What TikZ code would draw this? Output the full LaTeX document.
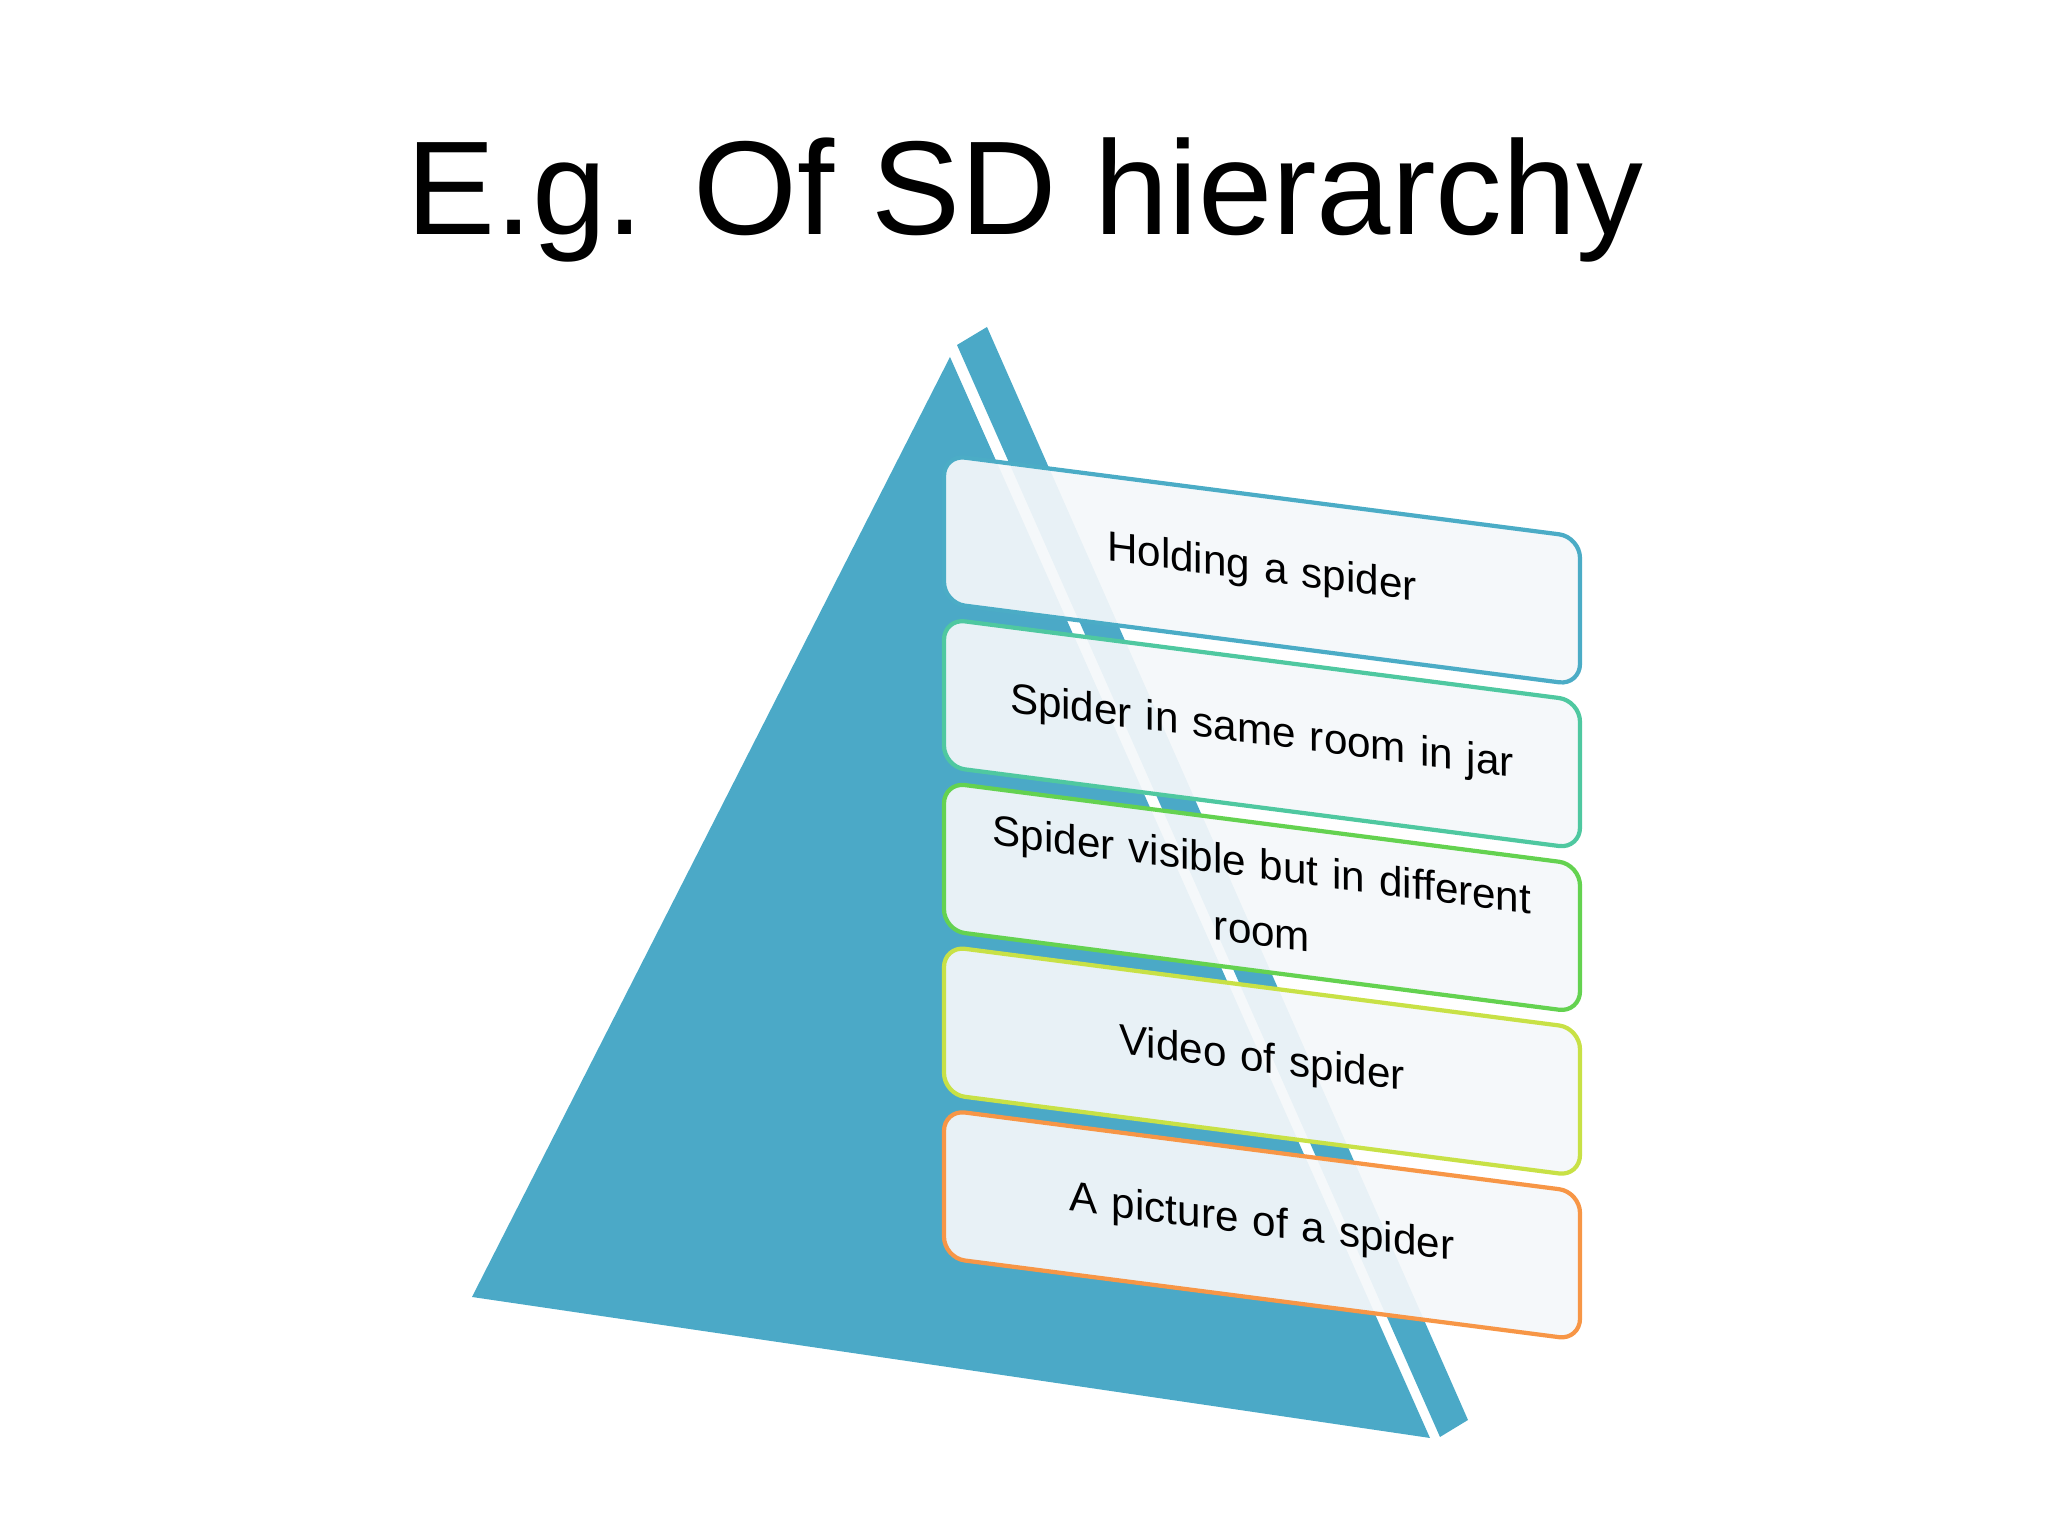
\documentclass[tikz,border=0pt]{standalone}
\usepackage{fontspec}
\setmainfont{Liberation Sans}
\usetikzlibrary{positioning}
\definecolor{pyr}{RGB}{75,169,199}
\definecolor{boxbg}{RGB}{244,247,250}
\definecolor{lvlA}{RGB}{75,172,198}
\definecolor{lvlB}{RGB}{79,200,160}
\definecolor{lvlC}{RGB}{100,210,80}
\definecolor{lvlD}{RGB}{200,225,70}
\definecolor{lvlE}{RGB}{247,150,70}
\tikzset{%
	face/.style={fill=pyr},
	level/.style={draw, rectangle, rounded corners=6pt, minimum width=63.6mm,%
		minimum height=14.8mm, text width=58mm, fill=boxbg, fill opacity=0.93,%
		text opacity=1, line width=1.2pt, transform shape, align=center,%
		node distance=1.15mm, font=\fontsize{12}{19}\selectfont},
	title/.style={font=\fontsize{38}{44}\selectfont}
}
\begin{document}
\begin{tikzpicture}
	\useasboundingbox (0,0) rectangle (20.48,15.36);
	\node[title, anchor=base] (title) at (10.25,13.01) {E.g. Of SD hierarchy};

	% pyramid, front and side
	\fill[face] (9.50,11.79) -- (4.72,2.39) -- (14.30,0.98) -- cycle;
	\fill[face] (9.57,11.91) -- (9.87,12.09) -- (14.68,1.16) -- (14.40,0.99) -- cycle;

	\begin{scope}[shift={(12.62,9.66)}, yslant=-0.129]
		\node[level, draw=lvlA] (hold) {Holding a spider};
		\node[level, draw=lvlB, below=of hold] (jar) {Spider in same room in jar};
		\node[level, draw=lvlC, below=of jar] (visible) {Spider visible but in different\\room};
		\node[level, draw=lvlD, below=of visible] (video) {Video of spider};
		\node[level, draw=lvlE, below=of video] (picture) {A picture of a spider};
	\end{scope}
\end{tikzpicture}
\end{document}
